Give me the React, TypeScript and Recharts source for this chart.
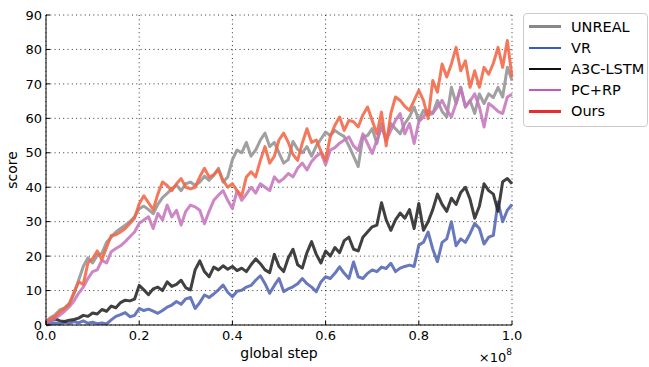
import { LineChart, Line, XAxis, YAxis, CartesianGrid } from "recharts";

// global step (x 1e8)
const STEPS = [
  0, 0.01, 0.02, 0.03, 0.04, 0.05, 0.06, 0.07, 0.08, 0.09,
  0.1, 0.11, 0.12, 0.13, 0.14, 0.15, 0.16, 0.17, 0.18, 0.19,
  0.2, 0.21, 0.22, 0.23, 0.24, 0.25, 0.26, 0.27, 0.28, 0.29,
  0.3, 0.31, 0.32, 0.33, 0.34, 0.35, 0.36, 0.37, 0.38, 0.39,
  0.4, 0.41, 0.42, 0.43, 0.44, 0.45, 0.46, 0.47, 0.48, 0.49,
  0.5, 0.51, 0.52, 0.53, 0.54, 0.55, 0.56, 0.57, 0.58, 0.59,
  0.6, 0.61, 0.62, 0.63, 0.64, 0.65, 0.66, 0.67, 0.68, 0.69,
  0.7, 0.71, 0.72, 0.73, 0.74, 0.75, 0.76, 0.77, 0.78, 0.79,
  0.8, 0.81, 0.82, 0.83, 0.84, 0.85, 0.86, 0.87, 0.88, 0.89,
  0.9, 0.91, 0.92, 0.93, 0.94, 0.95, 0.96, 0.97, 0.98, 0.99, 1,
];

const UNREAL = [
  1.0, 2.2, 3.0, 4.4, 5.0, 6.3, 9.0, 13.0, 17.0, 19.5,
  18.0, 20.2, 20.8, 24.0, 25.5, 27.0, 28.0, 29.0, 30.0, 31.4,
  33.8, 34.5, 33.5, 32.3, 35.0, 37.0, 38.2, 39.5, 40.6, 39.0,
  41.0, 41.5, 40.5, 41.5, 43.2, 42.0, 43.5, 45.5, 41.5, 43.0,
  48.0, 50.8, 50.0, 53.0, 49.0, 50.8, 53.7, 55.7, 51.8, 53.0,
  50.0, 47.0, 48.0, 53.3, 51.0, 50.0, 51.8, 49.0, 52.0, 54.0,
  56.0, 55.0, 56.5, 55.5, 54.7, 52.0, 49.0, 46.0, 54.6, 55.0,
  57.0, 52.7, 58.5, 53.6, 58.5, 57.0, 55.5, 58.5, 60.4, 63.3,
  59.4, 62.3, 61.0, 61.4, 65.2, 62.0, 60.4, 69.0, 64.3, 69.0,
  63.3, 65.2, 61.4, 67.1, 64.3, 67.1, 66.0, 69.0, 66.2, 74.8, 71.0,
];

const VR = [
  0.0, 0.3, 0.6, 0.3, 0.8, 0.5, 1.0, 0.6, 1.2, 0.5,
  0.8, 0.4, 0.6, 0.3, 1.5, 2.5, 3.0, 3.6, 2.4, 2.8,
  4.8, 4.2, 4.6, 4.0, 3.4, 4.2, 5.2, 5.8, 6.8, 6.0,
  7.6, 8.0, 4.8, 6.5, 8.7, 8.0, 9.0, 10.2, 11.6, 9.5,
  8.2, 9.8, 10.1, 11.0, 11.5, 13.0, 14.3, 12.0, 9.2, 11.5,
  13.5, 9.7, 10.5, 11.1, 12.0, 13.5, 12.0, 11.0, 9.7, 12.5,
  14.0, 13.5, 15.0, 16.9, 15.0, 13.5, 18.3, 14.0, 13.5, 15.0,
  16.0, 15.5, 16.8, 16.4, 17.9, 15.5, 16.5, 17.0, 17.4, 17.0,
  23.2, 24.0, 27.0, 22.0, 18.4, 24.0, 25.0, 30.0, 23.0, 25.0,
  24.0, 26.5, 29.5, 28.0, 23.5, 25.5, 26.0, 35.7, 30.0, 33.3, 35.0,
];

const A3C_LSTM = [
  0.5, 1.2, 1.8, 1.2, 1.0, 1.4, 1.6, 2.0, 2.8, 2.5,
  3.5, 3.2, 4.5, 4.0, 5.5, 5.0, 6.5, 7.2, 7.0, 7.5,
  11.5, 10.2, 8.8, 10.5, 11.0, 10.0, 12.5, 11.2, 11.8, 13.0,
  10.8, 10.2, 16.0, 18.6, 15.5, 14.0, 16.8, 16.0, 17.2, 16.2,
  17.0, 15.8, 16.5, 15.5, 17.5, 19.2, 17.8, 16.0, 15.2, 20.5,
  17.0, 15.5, 19.5, 22.0, 17.5, 16.5, 21.0, 24.2, 20.5, 18.0,
  21.5, 20.0, 22.5, 21.0, 24.5, 25.5, 22.0, 21.5, 25.5, 27.0,
  28.5, 29.0, 35.5, 30.5, 27.5, 30.5, 32.5, 31.0, 33.5, 28.0,
  35.3, 27.5, 30.0, 33.5, 38.0, 35.0, 33.0, 36.8, 35.0, 38.5,
  40.0, 36.5, 31.0, 34.5, 41.0, 39.0, 38.0, 33.0, 41.6, 42.5, 41.0,
];

const PC_RP = [
  0.5, 1.2, 2.0, 2.9, 4.0, 5.3, 7.0, 9.2, 11.0, 13.5,
  15.5, 16.0, 18.8, 18.0, 21.3, 22.2, 23.0, 24.2, 25.6, 27.0,
  29.5, 30.5, 31.4, 28.0, 32.4, 30.5, 34.8, 31.4, 33.3, 29.0,
  33.0, 34.8, 34.3, 33.3, 29.4, 33.0, 36.2, 37.7, 39.0, 36.2,
  33.8, 39.0, 36.2, 38.0, 40.0, 38.3, 41.0, 40.0, 39.0, 43.0,
  41.5, 42.5, 44.0, 43.0, 45.5, 47.0, 45.0, 47.5, 49.0, 50.0,
  46.5, 50.8, 51.5, 52.8, 53.7, 54.6, 52.0, 50.7, 55.5, 52.7,
  49.8, 53.6, 57.5, 53.6, 56.5, 59.4, 61.4, 55.5, 58.5, 52.7,
  59.0, 60.4, 62.3, 61.5, 63.3, 65.2, 62.5, 60.4, 64.3, 69.0,
  63.3, 65.0, 67.1, 63.3, 57.5, 64.3, 63.3, 62.0, 61.4, 66.2, 67.0,
];

const OURS = [
  1.0, 1.8, 2.6, 3.9, 4.8, 6.0, 9.5, 12.5, 11.8, 18.0,
  19.3, 21.5, 19.0, 22.5, 26.0, 26.2, 27.0, 28.0, 29.5, 31.0,
  35.2, 37.5, 35.5, 33.5, 38.0, 41.5, 40.5, 39.0, 41.0, 42.5,
  40.0, 39.5, 40.0, 43.0, 45.5, 43.0, 43.6, 45.0, 42.0, 40.0,
  41.0, 39.0, 37.5, 43.0, 44.5, 43.0, 47.8, 51.8, 47.0, 49.0,
  53.7, 55.7, 53.0, 49.5, 47.8, 52.8, 57.0, 53.0, 53.7, 50.5,
  47.8, 54.7, 58.0, 60.4, 56.5, 59.4, 59.0, 57.5, 61.0, 63.3,
  59.4, 55.5, 61.8, 52.0, 61.4, 66.2, 65.2, 63.5, 62.3, 65.2,
  68.1, 65.2, 59.9, 71.0, 67.6, 75.8, 72.0, 75.8, 80.6, 73.8,
  76.7, 69.0, 73.8, 69.0, 74.8, 72.8, 76.0, 80.6, 74.8, 82.6, 72.0,
];

const X_TICKS = [0, 0.2, 0.4, 0.6, 0.8, 1.0];
const Y_TICKS = [0, 10, 20, 30, 40, 50, 60, 70, 80, 90];

const SERIES = [
  { key: "unreal", name: "UNREAL", values: UNREAL, color: "#939393", legend: "#888888" },
  { key: "vr", name: "VR", values: VR, color: "#5365b4", legend: "#3a5cc0" },
  { key: "a3c", name: "A3C-LSTM", values: A3C_LSTM, color: "#262626", legend: "#111111" },
  { key: "pcrp", name: "PC+RP", values: PC_RP, color: "#c576bc", legend: "#c45ab8" },
  { key: "ours", name: "Ours", values: OURS, color: "#f36645", legend: "#ee2b2b" },
];

const data = STEPS.map((step, i) => {
  const row: Record<string, number> = { step };
  SERIES.forEach((s) => {
    row[s.key] = s.values[i];
  });
  return row;
});

const FONT = "'DejaVu Sans', sans-serif";

const ScoreLabel = (props: any) => {
  const vb = props.viewBox;
  const cy = vb.y + vb.height / 2;
  return (
    <text x={12} y={cy} transform={`rotate(-90 12 ${cy})`} textAnchor="middle" dominantBaseline="central" fontSize={14} fill="#000" fontFamily={FONT}>
      score
    </text>
  );
};

const StepLabel = (props: any) => {
  const vb = props.viewBox;
  const cx = vb.x + vb.width / 2;
  const right = vb.x + vb.width;
  return (
    <g fontFamily={FONT} fill="#000">
      <text x={cx} y={358} textAnchor="middle" fontSize={14}>global step</text>
      <text x={right} y={362} textAnchor="end" fontSize={13}>
        ×10<tspan dy={-7} fontSize={9}>8</tspan>
      </text>
    </g>
  );
};

export default function App() {
  return (
    <div style={{ position: "relative", width: 649, height: 367, overflow: "hidden", background: "#fff", fontFamily: FONT }}>
      <style>{`body{margin:0}`}</style>
      <LineChart width={649} height={367} data={data} margin={{ top: 15, right: 137, bottom: 0, left: 0 }}>
        <CartesianGrid stroke="#000" strokeWidth={0.8} strokeDasharray="1 3.3" />
        <XAxis
          dataKey="step"
          type="number"
          domain={[0, 1]}
          ticks={X_TICKS}
          tickFormatter={(v: number) => v.toFixed(1)}
          height={42}
          tickSize={-4}
          tickMargin={10}
          axisLine={{ stroke: "#000" }}
          tickLine={{ stroke: "#000" }}
          tick={{ fill: "#000", fontSize: 13, fontFamily: FONT }}
          interval={0}
          label={<StepLabel />}
        />
        <XAxis
          xAxisId="top"
          orientation="top"
          dataKey="step"
          type="number"
          domain={[0, 1]}
          ticks={X_TICKS}
          height={0}
          tickSize={-4}
          tick={false}
          axisLine={{ stroke: "#000" }}
          tickLine={{ stroke: "#000" }}
        />
        <YAxis
          type="number"
          domain={[0, 90]}
          ticks={Y_TICKS}
          width={46}
          tickSize={-4}
          tickMargin={8}
          axisLine={{ stroke: "#000" }}
          tickLine={{ stroke: "#000" }}
          tick={{ fill: "#000", fontSize: 13, fontFamily: FONT }}
          interval={0}
          label={<ScoreLabel />}
        />
        <YAxis
          yAxisId="right"
          orientation="right"
          type="number"
          domain={[0, 90]}
          ticks={Y_TICKS}
          width={0}
          tickSize={-4}
          tick={false}
          axisLine={{ stroke: "#000" }}
          tickLine={{ stroke: "#000" }}
        />
        {SERIES.map((s) => (
          <Line
            key={s.key}
            type="linear"
            dataKey={s.key}
            name={s.name}
            stroke={s.color}
            strokeOpacity={0.88}
            strokeWidth={3}
            strokeLinejoin="round"
            dot={false}
            activeDot={false}
            isAnimationActive={false}
          />
        ))}
      </LineChart>
      <div
        style={{
          position: "absolute",
          left: 523,
          top: 13,
          width: 125,
          height: 114,
          border: "1px solid #cccccc",
          borderRadius: 4,
          background: "#fff",
          boxSizing: "border-box",
          paddingTop: 2,
        }}
      >
        {SERIES.map((s) => (
          <div key={s.key} style={{ display: "flex", alignItems: "center", height: 21.2 }}>
            <div style={{ marginLeft: 5, width: 32, height: 2.5, background: s.legend }} />
            <span style={{ marginLeft: 10, fontSize: 14.5, color: "#000", whiteSpace: "nowrap" }}>{s.name}</span>
          </div>
        ))}
      </div>
    </div>
  );
}
